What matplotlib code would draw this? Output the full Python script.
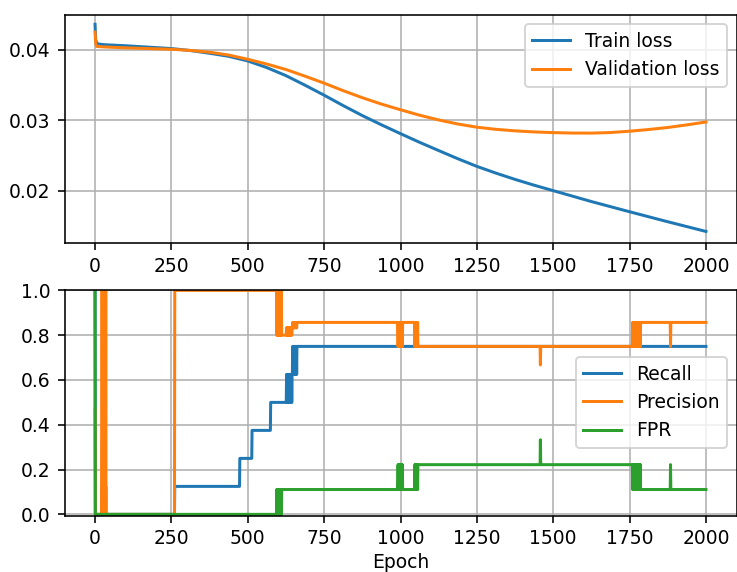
import numpy as np
import matplotlib
matplotlib.use("Agg")
import matplotlib.pyplot as plt

# Loss curves (epoch, value)
train_epochs = [0, 2, 5, 10, 30, 100, 175, 250, 312, 375, 437, 500, 562, 625, 687,
                750, 812, 876, 938, 1000, 1062, 1125, 1187, 1250, 1312, 1375, 1437,
                1500, 1625, 1750, 1875, 2000]
train_loss = [0.04365, 0.0415, 0.0410, 0.04085, 0.04075, 0.0406, 0.0404, 0.0402,
              0.03992, 0.03953, 0.03910, 0.03844, 0.03750, 0.03635, 0.03500,
              0.03357, 0.03210, 0.03065, 0.02935, 0.02810, 0.02688, 0.02570,
              0.02455, 0.02345, 0.02250, 0.02160, 0.02078, 0.0200, 0.01845,
              0.01700, 0.01558, 0.0142]

val_epochs = [0, 2, 5, 30, 100, 175, 250, 312, 375, 437, 500, 562, 625, 687, 750,
              812, 876, 938, 1000, 1062, 1125, 1187, 1250, 1312, 1375, 1437, 1500,
              1562, 1625, 1687, 1750, 1812, 1875, 1937, 2000]
val_loss = [0.04255, 0.0410, 0.0405, 0.04043, 0.0403, 0.0402, 0.0401, 0.03993,
            0.03968, 0.03928, 0.03868, 0.03800, 0.03722, 0.03628, 0.03528, 0.03422,
            0.0332, 0.0323, 0.0315, 0.03073, 0.03005, 0.02948, 0.02902, 0.02872,
            0.02850, 0.02835, 0.02825, 0.02819, 0.02818, 0.02826, 0.02845, 0.02869,
            0.02898, 0.02935, 0.02976]

# Validation metrics per epoch: (first epoch, value) steps, plus spans where the
# metric toggled between two values on alternate epochs (start, end, a, b).
n_epochs = 2001

recall_steps = [(0, 1.0), (1, 0.0), (261, 0.125), (474, 0.25), (514, 0.375),
                (575, 0.5), (661, 0.75)]
recall_toggles = [(22, 35, 0.0, 0.125), (626, 645, 0.5, 0.625),
                  (646, 660, 0.625, 0.75)]

precision_steps = [(0, 0.47), (1, 0.0), (261, 1.0), (611, 0.8), (661, 0.857),
                   (1057, 0.75), (1458, 0.667), (1459, 0.75), (1787, 0.857),
                   (1884, 0.75), (1885, 0.857)]
precision_toggles = [(22, 35, 0.0, 1.0), (594, 610, 1.0, 0.8),
                     (626, 645, 0.8, 0.833), (646, 660, 0.833, 0.857),
                     (991, 1007, 0.857, 0.75), (1046, 1056, 0.857, 0.75),
                     (1759, 1786, 0.75, 0.857)]

fpr_steps = [(0, 1.0), (1, 0.0), (611, 0.111), (1057, 0.222), (1458, 0.333),
             (1459, 0.222), (1787, 0.111), (1884, 0.222), (1885, 0.111)]
fpr_toggles = [(594, 610, 0.0, 0.111), (991, 1007, 0.111, 0.222),
               (1046, 1056, 0.111, 0.222), (1759, 1786, 0.222, 0.111)]


def per_epoch(steps, toggles):
    values = np.zeros(n_epochs)
    for start, value in steps:
        values[start:] = value
    for start, end, a, b in toggles:
        for ep in range(start, end + 1):
            values[ep] = a if (ep - start) % 2 == 0 else b
    return values


epochs = np.arange(n_epochs)
recall = per_epoch(recall_steps, recall_toggles)
precision = per_epoch(precision_steps, precision_toggles)
fpr = per_epoch(fpr_steps, fpr_toggles)

plt.rcParams["font.size"] = 9.4

W, H, DPI = 737, 572, 144
fig = plt.figure(figsize=(W / DPI, H / DPI), dpi=DPI)

ax1 = fig.add_axes([64.5 / W, 1 - 242.5 / H, (736.5 - 64.5) / W, (242.5 - 15) / H])
ax2 = fig.add_axes([64.5 / W, 1 - 515.5 / H, (736.5 - 64.5) / W, (515.5 - 289.5) / H])

ax1.plot(train_epochs, train_loss, label="Train loss")
ax1.plot(val_epochs, val_loss, label="Validation loss")
ax1.set_xlim(-100, 2100)
ax1.set_ylim(0.01263, 0.04497)
ax1.set_yticks([0.02, 0.03, 0.04])
ax1.set_xticks(np.arange(0, 2001, 250))
ax1.grid(True)
ax1.legend(loc="upper right")

ax2.plot(epochs, recall, label="Recall")
ax2.plot(epochs, precision, label="Precision")
ax2.plot(epochs, fpr, label="FPR")
ax2.set_xlim(-100, 2100)
ax2.set_ylim(-0.005, 1.004)
ax2.set_yticks(np.arange(0, 1.01, 0.2))
ax2.set_xticks(np.arange(0, 2001, 250))
ax2.set_xlabel("Epoch", labelpad=2)
ax2.grid(True)
ax2.legend(loc="center right")

fig.savefig("out.png", dpi=DPI)
